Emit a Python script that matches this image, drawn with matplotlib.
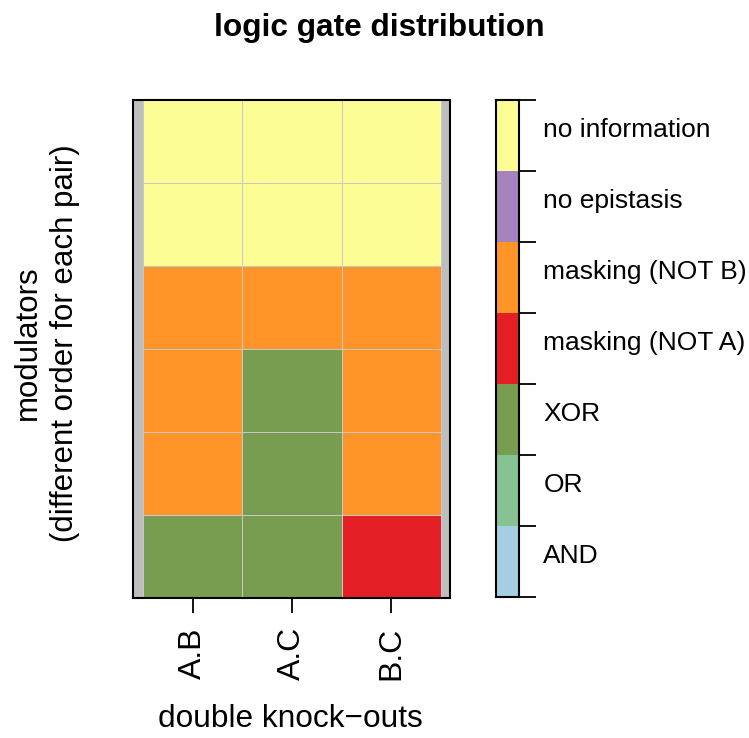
import numpy as np
import matplotlib
matplotlib.use("Agg")
import matplotlib.pyplot as plt
from matplotlib.colors import ListedColormap, BoundaryNorm
from matplotlib.transforms import ScaledTranslation

plt.rcParams['font.family'] = ['Liberation Sans', 'DejaVu Sans']

categories = ["AND", "OR", "XOR", "masking (NOT A)", "masking (NOT B)",
              "no epistasis", "no information"]
cat_colors = ["#A6CEE3", "#87C292", "#789D51", "#E31F25", "#FF9429",
              "#A584BD", "#FDFD96"]
columns = ["A.B", "A.C", "B.C"]
# rows listed from top to bottom
grid_rows = [
    ["no information", "no information", "no information"],
    ["no information", "no information", "no information"],
    ["masking (NOT B)", "masking (NOT B)", "masking (NOT B)"],
    ["masking (NOT B)", "XOR", "masking (NOT B)"],
    ["masking (NOT B)", "XOR", "masking (NOT B)"],
    ["XOR", "XOR", "masking (NOT A)"],
]

Z = np.array([[categories.index(v) for v in r] for r in grid_rows[::-1]])
cmap = ListedColormap(cat_colors)
norm = BoundaryNorm(np.arange(-0.5, len(categories) + 0.5, 1), cmap.N)

W, H = 749, 738
fig = plt.figure(figsize=(W / 100, H / 100), dpi=100)

ax = fig.add_axes([133 / W, 1 - 598 / H, 317 / W, 498 / H])
ax.set_facecolor("#BEBEBE")
nc, nr = Z.shape[1], Z.shape[0]
xe = np.arange(nc + 1) + 0.5
ye = np.arange(nr + 1) + 0.5
ax.pcolormesh(xe, ye, Z, cmap=cmap, norm=norm, edgecolors="#C8C8C8",
              linewidth=0.6)
cellw = 298 / nc
ax.set_xlim(0.5 - 10 / cellw, nc + 0.5 + 9 / cellw)
ax.set_ylim(0.5, nr + 0.5)
ax.set_xticks(np.arange(1, nc + 1))
ax.set_xticklabels(columns, rotation=90, fontsize=23)
ax.set_yticks([])
ax.tick_params(axis="x", length=10.5, width=1.3, pad=10.5, direction="out")
for s in ax.spines.values():
    s.set_linewidth(1.5)

fig.text(290 / W, 1 - 727 / H, "double knock\u2212outs", fontsize=22.8,
         ha="center", va="baseline")
fig.text(28 / W, 1 - 343 / H, "modulators", rotation=90, fontsize=22.5,
         ha="center", va="center")
fig.text(65 / W, 1 - 343 / H, "(different order for each pair)", rotation=90,
         fontsize=22.5, ha="center", va="center")
fig.text(379 / W, 1 - 28 / H, "logic gate distribution", fontsize=22.8,
         fontweight="bold", ha="center", va="center")

cax = fig.add_axes([496 / W, 1 - 597 / H, 23 / W, 497 / H])
ncat = len(categories)
cax.pcolormesh([0, 1], np.arange(ncat + 1), np.arange(ncat).reshape(-1, 1),
               cmap=cmap, norm=norm)
cax.set_xlim(0, 1)
cax.set_ylim(0, ncat)
cax.set_xticks([])
cax.yaxis.tick_right()
cax.set_yticks(np.arange(ncat + 1))
cax.set_yticklabels([])
cax.set_yticks(np.arange(ncat) + 0.5, minor=True)
cax.set_yticklabels(categories, minor=True, fontsize=19)
cax.tick_params(axis="y", which="major", length=12, width=1.3)
cax.tick_params(axis="y", which="minor", length=0, pad=17.5)
off = ScaledTranslation(0, 8 / 100, fig.dpi_scale_trans)
for lab in cax.get_yticklabels(minor=True):
    lab.set_transform(lab.get_transform() + off)
for s in cax.spines.values():
    s.set_linewidth(1.5)

fig.savefig("out.png", dpi=100)
